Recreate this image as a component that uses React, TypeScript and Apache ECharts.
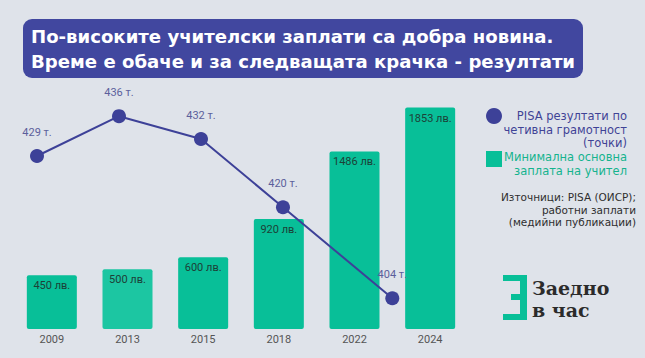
import React, { useEffect, useRef } from "react";
import * as echarts from "echarts";

const years = ["2009", "2013", "2015", "2018", "2022", "2024"];
const salaries = [450, 500, 600, 920, 1486, 1853];
const pisaYears = ["2009", "2013", "2015", "2018", "2022"];
const pisaScores = [429, 436, 432, 420, 404];
// horizontal slot of each PISA point on a fine hidden axis
const pisaSlots = [0, 3, 6, 9, 13];

const titleLines = [
  "По-високите учителски заплати са добра новина.",
  "Време е обаче и за следващата крачка - резултати",
];
const legendPisa = ["PISA резултати по", "четивна грамотност", "(точки)"];
const legendSalary = ["Минимална основна", "заплата на учител"];
const sources = ["Източници: PISA (ОИСР);", "работни заплати", "(медийни публикации)"];
const logoLines = ["Заедно", "в час"];

const BG = "#dfe3ea";
const INDIGO = "#3d4198";
const GREEN = "#08bf98";
const GREEN_LIGHT = "#1cc6a2";

export default function App() {
  const ref = useRef<HTMLDivElement>(null);
  useEffect(() => {
    if (!ref.current) return;
    const chart = echarts.init(ref.current, undefined, { renderer: "svg" });
    const font = "'DejaVu Sans', sans-serif";
    const graphic: any[] = [
      { type: "rect", shape: { x: 23, y: 19, width: 560, height: 59, r: 9 }, style: { fill: "#41479f" } },
      {
        type: "text",
        x: 31,
        y: 48.5,
        style: {
          text: titleLines.join("\n"),
          fill: "#ffffff",
          fontFamily: "'DejaVu Sans', sans-serif",
          fontWeight: "bold",
          fontSize: 18.1,
          lineHeight: 25,
          verticalAlign: "middle",
          align: "left",
        },
      },
      { type: "circle", shape: { cx: 494, cy: 116, r: 8 }, style: { fill: INDIGO } },
      {
        type: "text",
        x: 627,
        y: 129.5,
        style: {
          text: legendPisa.join("\n"),
          fill: "#3f4396",
          fontFamily: font,
          fontSize: 11.5,
          lineHeight: 13.5,
          verticalAlign: "middle",
          align: "right",
        },
      },
      { type: "rect", shape: { x: 486, y: 151, width: 16, height: 16 }, style: { fill: GREEN } },
      {
        type: "text",
        x: 627,
        y: 164,
        style: {
          text: legendSalary.join("\n"),
          fill: "#15b38e",
          fontFamily: font,
          fontSize: 11.5,
          lineHeight: 13.5,
          verticalAlign: "middle",
          align: "right",
        },
      },
      {
        type: "text",
        x: 636,
        y: 209.5,
        style: {
          text: sources.join("\n"),
          fill: "#2e2e2e",
          fontFamily: font,
          fontSize: 10.5,
          lineHeight: 12.3,
          verticalAlign: "middle",
          align: "right",
        },
      },
      {
        type: "polygon",
        shape: {
          points: [
            [503, 275], [527, 275], [527, 320], [503, 320], [503, 314], [520, 314],
            [520, 300], [511, 300], [511, 294], [520, 294], [520, 281], [503, 281],
          ],
        },
        style: { fill: GREEN },
      },
      {
        type: "text",
        x: 532,
        y: 299,
        style: {
          text: logoLines.join("\n"),
          fill: "#2b2b2b",
          fontFamily: "'DejaVu Serif', serif",
          fontWeight: "bold",
          fontSize: 19,
          lineHeight: 22,
          verticalAlign: "middle",
          align: "left",
        },
      },
    ];
    chart.setOption({
      animation: false,
      backgroundColor: BG,
      grid: { left: 14, right: 177, top: 90, bottom: 29 },
      xAxis: [
        {
          type: "category",
          data: years,
          boundaryGap: true,
          axisLine: { show: false },
          axisTick: { show: false },
          axisLabel: { color: "#555", fontSize: 11, margin: 5, fontFamily: "Roboto, sans-serif" },
        },
        { type: "value", min: -0.8415, max: 15.77, show: false },
      ],
      yAxis: [
        { type: "value", min: 0, max: 2000, show: false },
        { type: "value", min: 398.6, max: 440.6, show: false },
      ],
      series: [
        {
          type: "bar",
          xAxisIndex: 0,
          yAxisIndex: 0,
          barWidth: 50,
          z: 2,
          data: salaries.map((v, i) => ({
            value: v,
            itemStyle: { color: i === 1 ? GREEN_LIGHT : GREEN, borderRadius: 2 },
          })),
          label: {
            show: true,
            position: "insideTop",
            distance: 5,
            formatter: "{c} лв.",
            color: "#1d3f37",
            fontSize: 11,
            fontFamily: "Roboto, sans-serif",
          },
        },
        {
          type: "line",
          name: "PISA",
          xAxisIndex: 1,
          yAxisIndex: 1,
          z: 3,
          symbol: "circle",
          symbolSize: 14,
          lineStyle: { color: INDIGO, width: 2 },
          itemStyle: { color: INDIGO },
          data: pisaScores.map((v, i) => ({ value: [pisaSlots[i], v], name: pisaYears[i] })),
          label: {
            show: true,
            position: "top",
            distance: 11,
            formatter: (p: any) => `${p.value[1]} т.`,
            color: "#5c5f9c",
            fontSize: 11,
            fontFamily: "Roboto, sans-serif",
          },
        },
      ],
      graphic,
    });
    return () => chart.dispose();
  }, []);
  return <div ref={ref} style={{ position: "fixed", left: 0, top: 0, width: 645, height: 358 }} />;
}
